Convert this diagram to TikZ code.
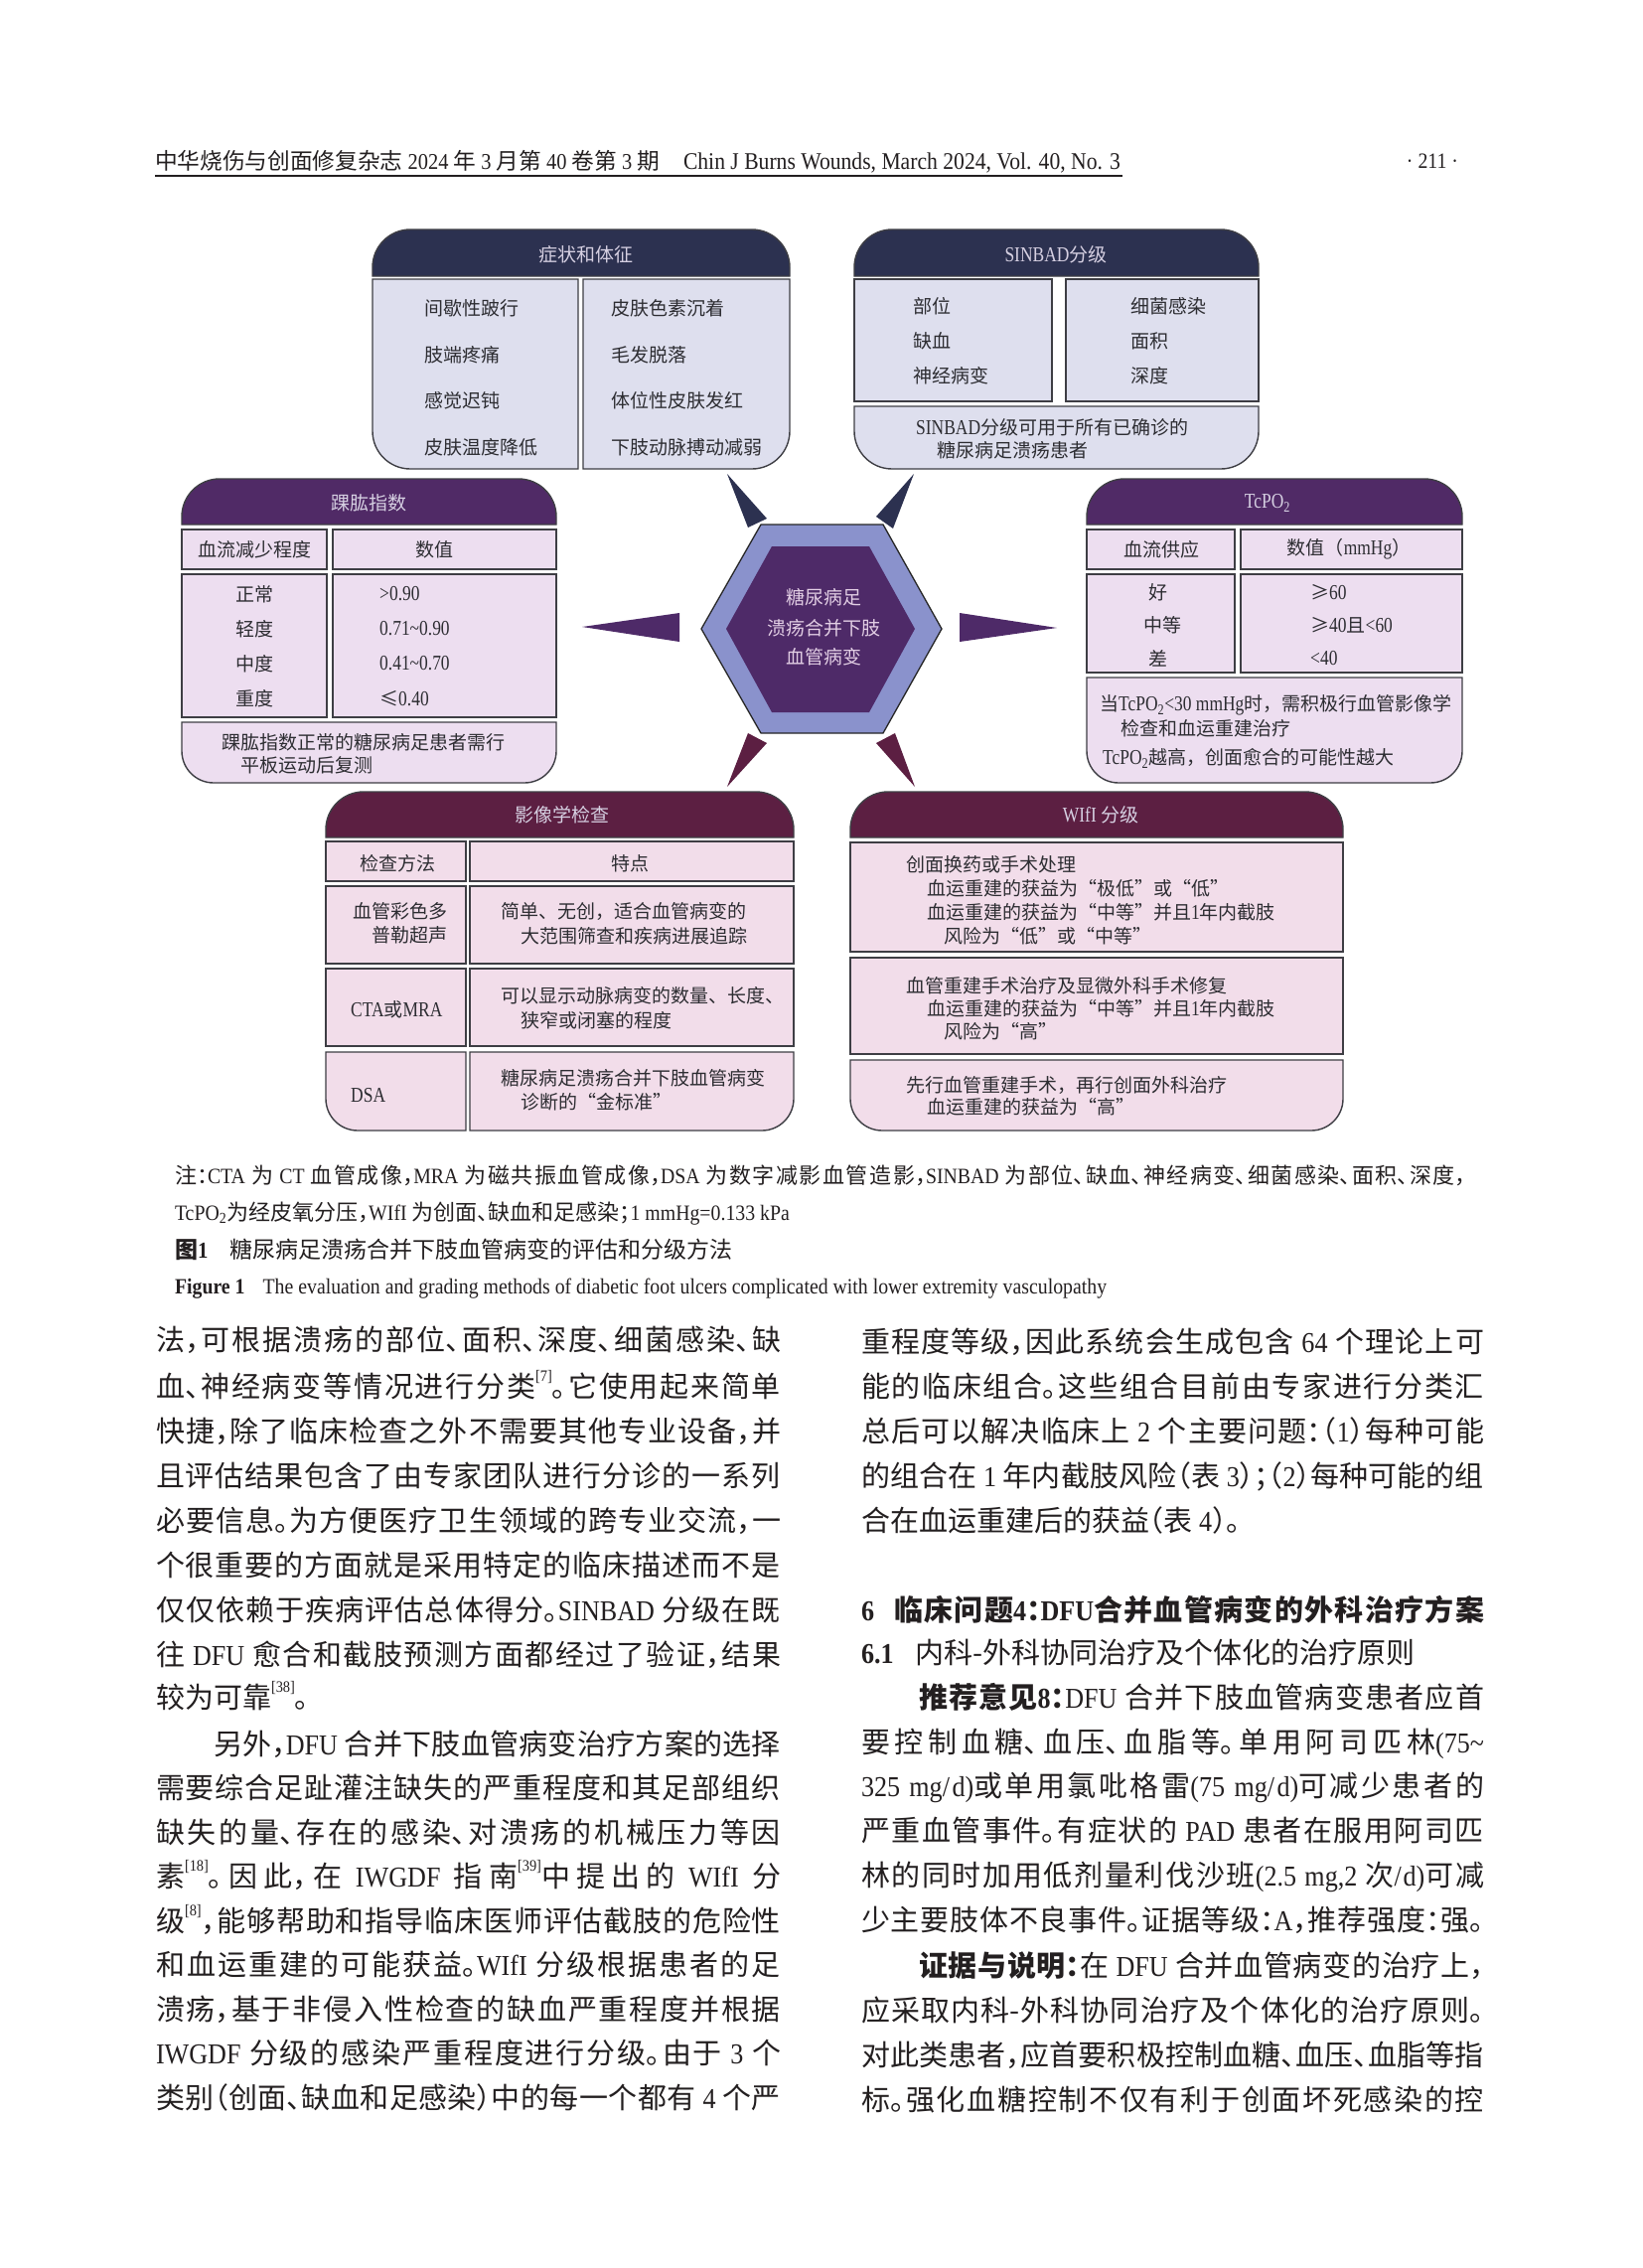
\documentclass[tikz,border=0pt]{standalone}
\usepackage{fontspec}
\usepackage{graphicx}
\setmainfont{Noto Sans CJK SC}[RawFeature=+halt]
\newfontfamily\figfont{Noto Sans CJK SC}
\newfontfamily\latf{Liberation Serif}[FakeStretch=0.9]
\newfontfamily\figlat{Liberation Serif}[FakeStretch=0.82,Scale=1.12]
\XeTeXlinebreaklocale "zh"
\XeTeXlinebreakskip=0pt plus 3pt
\XeTeXlinebreakpenalty=10000
\setlength\parindent{0pt}
\definecolor{HN}{RGB}{44,49,80}
\definecolor{BN}{RGB}{222,223,238}
\definecolor{HP}{RGB}{80,42,102}
\definecolor{BP}{RGB}{237,222,240}
\definecolor{HM}{RGB}{92,31,66}
\definecolor{BM}{RGB}{242,221,234}
\definecolor{EDGE}{RGB}{62,62,68}
\definecolor{HT}{RGB}{214,208,226}
\definecolor{BT}{RGB}{45,45,50}
\definecolor{INK}{RGB}{35,31,32}
\definecolor{RING}{RGB}{138,146,204}
\definecolor{CORE}{RGB}{78,42,104}
\definecolor{CTX}{RGB}{226,206,228}
\newcommand\bodyf{\fontsize{29}{35}\selectfont}
\newcommand\refm[1]{\raisebox{0.55em}{\fontsize{16}{16}\selectfont\latf #1}}
\newcommand\pbx[9]{\path[#9] ({#1},{#2+#5}) .. controls ({#1},{#2+0.448*#5}) and ({#1+0.448*#5},{#2}) .. ({#1+#5},{#2}) -- ({#3-#6},{#2}) .. controls ({#3-0.448*#6},{#2}) and ({#3},{#2+0.448*#6}) .. ({#3},{#2+#6}) -- ({#3},{#4-#7}) .. controls ({#3},{#4-0.448*#7}) and ({#3-0.448*#7},{#4}) .. ({#3-#7},{#4}) -- ({#1+#8},{#4}) .. controls ({#1+0.448*#8},{#4}) and ({#1},{#4-0.448*#8}) .. ({#1},{#4-#8}) -- cycle;}
\begin{document}
\begin{tikzpicture}[x=1pt,y=-1pt,
 hN/.style={fill=HN,draw=EDGE,line width=1.4pt},
 bN/.style={fill=BN,draw=EDGE,line width=1.4pt},
 hP/.style={fill=HP,draw=EDGE,line width=1.4pt},
 bP/.style={fill=BP,draw=EDGE,line width=1.4pt},
 hM/.style={fill=HM,draw=EDGE,line width=1.4pt},
 bM/.style={fill=BM,draw=EDGE,line width=1.4pt},
 ht/.style={inner sep=0pt,text=HT,font=\figfont\fontsize{19}{22}\selectfont},
 bt/.style={inner sep=0pt,anchor=west,text=BT,font=\figfont\fontsize{19}{22}\selectfont},
 bc/.style={bt,anchor=center},
 jl/.style={anchor=base west,inner sep=0pt,outer sep=0pt,text width=#1,align=justify,text=INK,font=\bodyf},
 ll/.style={anchor=base west,inner sep=0pt,outer sep=0pt,text=INK,font=\bodyf}]
\useasboundingbox (0,0) rectangle (1654,2283);
\fill[white] (0,0) rectangle (1654,2283);

% ---------- running head ----------
\node[ll,font=\fontsize{22}{22}\selectfont] (rh1) at (156,170) {\resizebox{508pt}{!}{中华烧伤与创面修复杂志 {\latf 2024} 年 {\latf 3} 月第 {\latf 40} 卷第 {\latf 3} 期}};
\node[ll,font=\latf\fontsize{22}{22}\selectfont] (rh2) at (688,170) {\resizebox{440pt}{!}{Chin J Burns Wounds, March 2024, Vol. 40, No. 3}};
\node[inner sep=0pt,text=INK,font=\latf\fontsize{22}{22}\selectfont] (pg) at (1442,162) {· 211 ·};
\coordinate (ul1) at (156,177);
\coordinate (ul2) at (1130,177);
\draw[INK,line width=1.6pt] (ul1) -- (ul2);

% ---------- panel A: symptoms ----------
\pbx{375}{231}{795}{278}{38}{38}{0}{0}{hN}
\pbx{375}{281}{582}{472}{0}{0}{0}{38}{bN}
\pbx{587}{281}{795}{472}{0}{0}{38}{0}{bN}
\node[ht] (ah) at (590,256) {症状和体征};
\node[bt] (a1) at (427,310) {间歇性跛行};
\node[bt] (a2) at (427,357) {肢端疼痛};
\node[bt] (a3) at (427,403) {感觉迟钝};
\node[bt] (a4) at (427,450) {皮肤温度降低};
\node[bt] (a5) at (615,310) {皮肤色素沉着};
\node[bt] (a6) at (615,357) {毛发脱落};
\node[bt] (a7) at (615,403) {体位性皮肤发红};
\node[bt] (a8) at (615,450) {下肢动脉搏动减弱};

% ---------- panel B: SINBAD ----------
\pbx{860}{231}{1267}{278}{38}{38}{0}{0}{hN}
\pbx{860}{281}{1059}{404}{0}{0}{0}{0}{bN}
\pbx{1073}{281}{1267}{404}{0}{0}{0}{0}{bN}
\pbx{860}{409}{1267}{472}{0}{0}{38}{38}{bN}
\node[ht] (bh) at (1063,256) {{\figlat SINBAD}分级};
\node[bt] (b1) at (919,308) {部位};
\node[bt] (b2) at (919,343) {缺血};
\node[bt] (b3) at (919,378) {神经病变};
\node[bt] (b4) at (1138,308) {细菌感染};
\node[bt] (b5) at (1138,343) {面积};
\node[bt] (b6) at (1138,378) {深度};
\node[bt] (b7) at (922,430) {{\figlat SINBAD}分级可用于所有已确诊的};
\node[bt] (b8) at (943,453) {糖尿病足溃疡患者};

% ---------- panel C: ankle-brachial index ----------
\pbx{183}{482}{560}{528}{38}{38}{0}{0}{hP}
\pbx{183}{533}{329}{573}{0}{0}{0}{0}{bP}
\pbx{335}{533}{560}{573}{0}{0}{0}{0}{bP}
\pbx{183}{578}{329}{722}{0}{0}{0}{0}{bP}
\pbx{335}{578}{560}{722}{0}{0}{0}{0}{bP}
\pbx{183}{727}{560}{788}{0}{0}{32}{32}{bP}
\node[ht] (ch) at (371,506) {踝肱指数};
\node[bc] (c0) at (256,553) {血流减少程度};
\node[bc] (c00) at (437,553) {数值};
\node[bc] (c1) at (256,598) {正常};
\node[bc] (c2) at (256,633) {轻度};
\node[bc] (c3) at (256,668) {中度};
\node[bc] (c4) at (256,703) {重度};
\node[bt] (c5) at (382,598) {{\figlat >0.90}};
\node[bt] (c6) at (382,633) {{\figlat 0.71\textasciitilde 0.90}};
\node[bt] (c7) at (382,668) {{\figlat 0.41\textasciitilde 0.70}};
\node[bt] (c8) at (382,703) {≤{\figlat 0.40}};
\node[bt] (c9) at (223,747) {踝肱指数正常的糖尿病足患者需行};
\node[bt] (c10) at (242,770) {平板运动后复测};

% ---------- panel D: TcPO2 ----------
\pbx{1094}{482}{1472}{528}{38}{38}{0}{0}{hP}
\pbx{1094}{533}{1243}{573}{0}{0}{0}{0}{bP}
\pbx{1249}{533}{1472}{573}{0}{0}{0}{0}{bP}
\pbx{1094}{578}{1243}{677}{0}{0}{0}{0}{bP}
\pbx{1249}{578}{1472}{677}{0}{0}{0}{0}{bP}
\pbx{1094}{682}{1472}{788}{0}{0}{32}{32}{bP}
\node[ht] (dh) at (1276,506) {{\figlat TcPO\textsubscript{2}}};
\node[bc] (d0) at (1169,553) {血流供应};
\node[bc] (d00) at (1358,553) {数值（{\figlat mmHg}）};
\node[bc] (d1) at (1166,596) {好};
\node[bc] (d2) at (1170,629) {中等};
\node[bc] (d3) at (1166,663) {差};
\node[bt] (d4) at (1319,596) {≥{\figlat 60}};
\node[bt] (d5) at (1319,629) {≥{\figlat 40}且{\figlat <60}};
\node[bt] (d6) at (1319,663) {{\figlat <40}};
\node[bt] (d7) at (1107,710) {当{\figlat TcPO\textsubscript{2}<30 mmHg}时，需积极行血管影像学};
\node[bt] (d8) at (1128,733) {检查和血运重建治疗};
\node[bt] (d9) at (1110,763) {{\figlat TcPO\textsubscript{2}}越高，创面愈合的可能性越大};

% ---------- panel E: imaging ----------
\pbx{328}{797}{799}{843}{38}{38}{0}{0}{hM}
\pbx{328}{847}{469}{887}{0}{0}{0}{0}{bM}
\pbx{473}{847}{799}{887}{0}{0}{0}{0}{bM}
\pbx{328}{892}{469}{970}{0}{0}{0}{0}{bM}
\pbx{473}{892}{799}{970}{0}{0}{0}{0}{bM}
\pbx{328}{975}{469}{1053}{0}{0}{0}{0}{bM}
\pbx{473}{975}{799}{1053}{0}{0}{0}{0}{bM}
\pbx{328}{1059}{469}{1138}{0}{0}{0}{32}{bM}
\pbx{473}{1059}{799}{1138}{0}{0}{32}{0}{bM}
\node[ht] (eh) at (566,820) {影像学检查};
\node[bc] (e0) at (400,869) {检查方法};
\node[bc] (e00) at (634,869) {特点};
\node[bt] (e1) at (355,917) {血管彩色多};
\node[bt] (e2) at (374,941) {普勒超声};
\node[bt] (e3) at (504,917) {简单、无创，适合血管病变的};
\node[bt] (e4) at (524,942) {大范围筛查和疾病进展追踪};
\node[bt] (e5) at (353,1016) {{\figlat CTA}或{\figlat MRA}};
\node[bt] (e6) at (504,1002) {可以显示动脉病变的数量、长度、};
\node[bt] (e7) at (524,1027) {狭窄或闭塞的程度};
\node[bt] (e8) at (353,1103) {{\figlat DSA}};
\node[bt] (e9) at (504,1085) {糖尿病足溃疡合并下肢血管病变};
\node[bt] (e10) at (524,1109) {诊断的“金标准”};

% ---------- panel F: WIfI ----------
\pbx{856}{797}{1352}{843}{38}{38}{0}{0}{hM}
\pbx{856}{848}{1352}{958}{0}{0}{0}{0}{bM}
\pbx{856}{964}{1352}{1061}{0}{0}{0}{0}{bM}
\pbx{856}{1067}{1352}{1138}{0}{0}{32}{32}{bM}
\node[ht] (fh) at (1108,820) {{\figlat WIfI}\ 分级};
\node[bt] (f1) at (912,870) {创面换药或手术处理};
\node[bt] (f2) at (933,894) {血运重建的获益为“极低”或“低”};
\node[bt] (f3) at (933,918) {血运重建的获益为“中等”并且{\figlat 1}年内截肢};
\node[bt] (f4) at (950,942) {风险为“低”或“中等”};
\node[bt] (f5) at (912,992) {血管重建手术治疗及显微外科手术修复};
\node[bt] (f6) at (933,1015) {血运重建的获益为“中等”并且{\figlat 1}年内截肢};
\node[bt] (f7) at (950,1038) {风险为“高”};
\node[bt] (f8) at (912,1092) {先行血管重建手术，再行创面外科治疗};
\node[bt] (f9) at (933,1114) {血运重建的获益为“高”};

% ---------- centre hexagon and spikes ----------
\fill[HN] (732,477) -- (753,531) -- (772,522) -- cycle;
\fill[HN] (920,477) -- (882,520) -- (899,532) -- cycle;
\fill[CORE] (586,631) -- (684,617) -- (684,646) -- cycle;
\fill[CORE] (1064,632) -- (966,617) -- (966,646) -- cycle;
\fill[HM] (732,792) -- (753,738) -- (772,748) -- cycle;
\fill[HM] (921,792) -- (882,748) -- (901,738) -- cycle;
\draw[fill=RING,draw=black!85,line width=1.3pt] (706,633) -- (766,528) -- (889,528) -- (948,633) -- (889,738) -- (766,738) -- cycle;
\fill[CORE] (731,633) -- (777,550) -- (875,550) -- (921,633) -- (875,717) -- (777,717) -- cycle;
\node[inner sep=0pt,text=CTX,font=\figfont\fontsize{19}{22}\selectfont] (hx1) at (829,601) {糖尿病足};
\node[inner sep=0pt,text=CTX,font=\figfont\fontsize{19}{22}\selectfont] (hx2) at (829,632) {溃疡合并下肢};
\node[inner sep=0pt,text=CTX,font=\figfont\fontsize{19}{22}\selectfont] (hx3) at (829,661) {血管病变};

% ---------- caption ----------
\node[jl=1300pt,font=\fontsize{22}{26}\selectfont] (cap1) at (176,1191) {\parfillskip=0pt\relax 注：{\latf CTA}~为~{\latf CT}~血管成像，{\latf MRA}~为磁共振血管成像，{\latf DSA}~为数字减影血管造影，{\latf SINBAD}~为部位、缺血、神经病变、细菌感染、面积、深度，\par};
\node[ll,font=\fontsize{22}{26}\selectfont] (cap2) at (176,1228) {{\latf TcPO\textsubscript{2}}为经皮氧分压，{\latf WIfI}~为创面、缺血和足感染；{\latf 1 mmHg=0.133 kPa}};
\node[ll,font=\fontsize{23}{26}\selectfont] (cap3) at (176,1266) {{\bfseries 图{\latf 1}}\hspace{22pt}糖尿病足溃疡合并下肢血管病变的评估和分级方法};
\node[ll,font=\latf\fontsize{22}{26}\selectfont] (cap4) at (176,1302) {\textbf{Figure 1}\hspace{18pt}The evaluation and grading methods of diabetic foot ulcers complicated with lower extremity vasculopathy};

% ---------- left column ----------
\node[jl=629pt] (l1) at (157,1359) {\parfillskip=0pt\relax 法，可根据溃疡的部位、面积、深度、细菌感染、缺\par};
\node[jl=629pt] (l2) at (157,1406) {\parfillskip=0pt\relax 血、神经病变等情况进行分类\refm{[7]}。它使用起来简单\par};
\node[jl=629pt] (l3) at (157,1451) {\parfillskip=0pt\relax 快捷，除了临床检查之外不需要其他专业设备，并\par};
\node[jl=629pt] (l4) at (157,1496) {\parfillskip=0pt\relax 且评估结果包含了由专家团队进行分诊的一系列\par};
\node[jl=629pt] (l5) at (157,1541) {\parfillskip=0pt\relax 必要信息。为方便医疗卫生领域的跨专业交流，一\par};
\node[jl=629pt] (l6) at (157,1586) {\parfillskip=0pt\relax 个很重要的方面就是采用特定的临床描述而不是\par};
\node[jl=629pt] (l7) at (157,1631) {\parfillskip=0pt\relax 仅仅依赖于疾病评估总体得分。{\latf SINBAD}~分级在既\par};
\node[jl=629pt] (l8) at (157,1676) {\parfillskip=0pt\relax 往~{\latf DFU}~愈合和截肢预测方面都经过了验证，结果\par};
\node[ll] (l9) at (157,1719) {较为可靠\refm{[38]}。};
\node[jl=629pt] (l10) at (157,1766) {\parfillskip=0pt\relax\hspace*{58pt}另外，{\latf DFU}~合并下肢血管病变治疗方案的选择\par};
\node[jl=629pt] (l11) at (157,1810) {\parfillskip=0pt\relax 需要综合足趾灌注缺失的严重程度和其足部组织\par};
\node[jl=629pt] (l12) at (157,1855) {\parfillskip=0pt\relax 缺失的量、存在的感染、对溃疡的机械压力等因\par};
\node[jl=629pt] (l13) at (157,1899) {\parfillskip=0pt\relax 素\refm{[18]}。因此，在~{\latf IWGDF}~指南\refm{[39]}中提出的~{\latf WIfI}~分\par};
\node[jl=629pt] (l14) at (157,1944) {\parfillskip=0pt\relax 级\refm{[8]}，能够帮助和指导临床医师评估截肢的危险性\par};
\node[jl=629pt] (l15) at (157,1988) {\parfillskip=0pt\relax 和血运重建的可能获益。{\latf WIfI}~分级根据患者的足\par};
\node[jl=629pt] (l16) at (157,2033) {\parfillskip=0pt\relax 溃疡，基于非侵入性检查的缺血严重程度并根据\par};
\node[jl=629pt] (l17) at (157,2077) {\parfillskip=0pt\relax {\latf IWGDF}~分级的感染严重程度进行分级。由于~{\latf 3}~个\par};
\node[jl=629pt] (l18) at (157,2122) {\parfillskip=0pt\relax 类别（创面、缺血和足感染）中的每一个都有~{\latf 4}~个严\par};

% ---------- right column ----------
\node[jl=627pt] (r1) at (867,1361) {\parfillskip=0pt\relax 重程度等级，因此系统会生成包含~{\latf 64}~个理论上可\par};
\node[jl=627pt] (r2) at (867,1406) {\parfillskip=0pt\relax 能的临床组合。这些组合目前由专家进行分类汇\par};
\node[jl=627pt] (r3) at (867,1451) {\parfillskip=0pt\relax 总后可以解决临床上~{\latf 2}~个主要问题：（{\latf 1}）每种可能\par};
\node[jl=627pt] (r4) at (867,1496) {\parfillskip=0pt\relax 的组合在~{\latf 1}~年内截肢风险（表~{\latf 3}）；（{\latf 2}）每种可能的组\par};
\node[ll] (r5) at (867,1541) {合在血运重建后的获益（表~{\latf 4}）。};
\node[jl=627pt] (r6) at (867,1631) {\parfillskip=0pt\relax\bfseries{\latf 6}\hspace*{20pt}临床问题{\latf 4}：{\latf DFU}合并血管病变的外科治疗方案\par};
\node[ll] (r7) at (867,1674) {{\bfseries\latf 6.1}\hspace*{22pt}内科-外科协同治疗及个体化的治疗原则};
\node[jl=627pt] (r8) at (867,1719) {\parfillskip=0pt\relax\hspace*{58pt}{\bfseries 推荐意见{\latf 8}：}{\latf DFU}~合并下肢血管病变患者应首\par};
\node[jl=627pt] (r9) at (867,1764) {\parfillskip=0pt\relax 要控制血糖、血压、血脂等。单用阿司匹林{\latf (75\textasciitilde}\par};
\node[jl=627pt] (r10) at (867,1808) {\parfillskip=0pt\relax{\latf 325~mg/d)}或单用氯吡格雷{\latf (75~mg/d)}可减少患者的\par};
\node[jl=627pt] (r11) at (867,1853) {\parfillskip=0pt\relax 严重血管事件。有症状的~{\latf PAD}~患者在服用阿司匹\par};
\node[jl=627pt] (r12) at (867,1898) {\parfillskip=0pt\relax 林的同时加用低剂量利伐沙班{\latf (2.5~mg,2}~次{\latf /d)}可减\par};
\node[jl=627pt] (r13) at (867,1943) {\parfillskip=0pt\relax 少主要肢体不良事件。证据等级：{\latf A}，推荐强度：强。\par};
\node[jl=627pt] (r14) at (867,1989) {\parfillskip=0pt\relax\hspace*{58pt}{\bfseries 证据与说明：}在~{\latf DFU}~合并血管病变的治疗上，\par};
\node[jl=627pt] (r15) at (867,2034) {\parfillskip=0pt\relax 应采取内科-外科协同治疗及个体化的治疗原则。\par};
\node[jl=627pt] (r16) at (867,2079) {\parfillskip=0pt\relax 对此类患者，应首要积极控制血糖、血压、血脂等指\par};
\node[jl=627pt] (r17) at (867,2124) {\parfillskip=0pt\relax 标。强化血糖控制不仅有利于创面坏死感染的控\par};
\end{tikzpicture}
\end{document}
